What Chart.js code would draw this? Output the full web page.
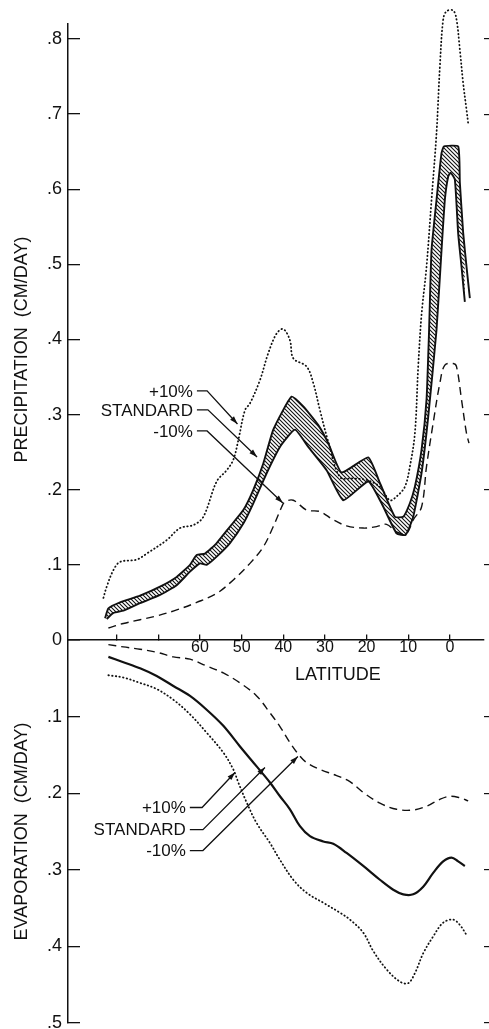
<!DOCTYPE html>
<html lang="en">
<head>
<meta charset="UTF-8">
<title>Precipitation and evaporation vs latitude</title>
<script src="https://cdn.jsdelivr.net/npm/chart.js@4"></script>
<style>
  html, body { margin: 0; padding: 0; background: #fff; }
  .wrap { width: 489px; height: 1029px; position: relative; }
</style>
</head>
<body>
<div class="wrap"><canvas id="chart"></canvas></div>
<script>
// ---- data (latitude, cm/day) ----
const latTicks = [80, 70, 60, 50, 40, 30, 20, 10, 0];
const precipTicks = [0, 0.1, 0.2, 0.3, 0.4, 0.5, 0.6, 0.7, 0.8];
const evapTicks = [0, 0.1, 0.2, 0.3, 0.4, 0.5];

// precipitation, standard run: upper and lower edge of the hatched band
const stdHiLat = [82.8, 82.0, 79.2, 74.4, 69.6, 65.6, 62.4, 60.8, 58.8, 56.0, 52.8, 49.6, 47.2, 44.8, 42.4, 38.0, 35.2, 31.6, 29.2, 26.0, 19.6, 16.8, 13.2, 11.2, 9.6, 8.4, 6.8, 5.6, 5.0, 4.4, 3.2, 2.0, 1.4, -2.0, -2.4, -3.2, -4.0, -4.8];
const stdHiVal = [0.029, 0.042, 0.050, 0.059, 0.071, 0.084, 0.100, 0.113, 0.115, 0.129, 0.151, 0.173, 0.200, 0.235, 0.280, 0.324, 0.311, 0.286, 0.262, 0.223, 0.243, 0.209, 0.164, 0.164, 0.182, 0.204, 0.253, 0.320, 0.410, 0.519, 0.586, 0.648, 0.657, 0.657, 0.609, 0.542, 0.497, 0.455];
const stdLoLat = [82.4, 80.8, 78.4, 74.4, 69.6, 65.6, 62.4, 60.0, 58.4, 56.0, 52.8, 49.6, 47.2, 44.0, 40.8, 37.2, 34.0, 29.6, 25.6, 19.6, 16.4, 12.8, 10.6, 8.8, 6.8, 5.2, 3.2, 2.0, 1.2, 0.4, -0.2, -1.2, -2.0, -2.8, -3.6];
const stdLoVal = [0.028, 0.036, 0.039, 0.049, 0.060, 0.073, 0.091, 0.102, 0.100, 0.111, 0.129, 0.155, 0.182, 0.222, 0.257, 0.280, 0.257, 0.226, 0.186, 0.211, 0.182, 0.142, 0.140, 0.164, 0.222, 0.297, 0.413, 0.519, 0.586, 0.617, 0.622, 0.613, 0.541, 0.497, 0.450];

// precipitation, +10% (dotted) and -10% (dashed)
const plusPrecipLat = [83.2, 82.4, 80.8, 79.2, 75.2, 72.8, 68.0, 64.8, 61.6, 59.2, 56.0, 53.6, 52.0, 50.8, 49.2, 48.0, 45.6, 43.6, 41.6, 40.0, 38.4, 37.6, 34.4, 32.8, 31.2, 29.2, 26.4, 23.2, 20.0, 16.8, 14.4, 12.8, 10.8, 9.6, 8.4, 7.6, 6.8, 5.6, 4.4, 3.2, 2.4, 1.6, 0.8, -0.8, -1.6, -2.4, -3.2, -4.0, -4.4];
const plusPrecipVal = [0.056, 0.071, 0.093, 0.104, 0.107, 0.115, 0.133, 0.149, 0.153, 0.164, 0.211, 0.226, 0.240, 0.266, 0.306, 0.315, 0.346, 0.382, 0.408, 0.414, 0.399, 0.375, 0.364, 0.342, 0.306, 0.264, 0.217, 0.215, 0.213, 0.204, 0.186, 0.191, 0.204, 0.231, 0.275, 0.364, 0.433, 0.497, 0.586, 0.675, 0.763, 0.826, 0.837, 0.838, 0.826, 0.786, 0.741, 0.706, 0.688];
const minusPrecipLat = [82.0, 78.4, 74.4, 70.4, 65.6, 60.8, 56.0, 52.0, 48.0, 44.8, 42.4, 40.4, 39.6, 37.6, 34.4, 31.2, 28.0, 24.8, 20.8, 17.6, 15.2, 12.8, 10.4, 8.8, 6.8, 5.6, 4.0, 2.4, 1.2, -0.8, -1.6, -2.8, -4.0, -4.6];
const minusPrecipVal = [0.016, 0.022, 0.027, 0.032, 0.040, 0.050, 0.062, 0.080, 0.102, 0.124, 0.151, 0.177, 0.184, 0.186, 0.173, 0.171, 0.160, 0.152, 0.149, 0.151, 0.154, 0.144, 0.142, 0.160, 0.177, 0.231, 0.289, 0.342, 0.366, 0.368, 0.364, 0.320, 0.275, 0.262];

// evaporation
const stdEvapLat = [82.0, 78.4, 74.4, 70.4, 66.4, 62.4, 58.4, 54.4, 50.4, 46.4, 43.2, 40.8, 38.4, 36.0, 33.6, 30.4, 28.0, 24.8, 20.8, 16.8, 13.6, 11.2, 8.8, 6.4, 4.0, 1.6, -0.4, -2.0, -3.6];
const stdEvapVal = [0.022, 0.029, 0.037, 0.047, 0.060, 0.073, 0.091, 0.112, 0.139, 0.165, 0.186, 0.204, 0.221, 0.243, 0.256, 0.263, 0.266, 0.278, 0.295, 0.313, 0.326, 0.332, 0.332, 0.322, 0.304, 0.289, 0.284, 0.289, 0.295];
const minusEvapLat = [82.0, 78.4, 74.4, 70.4, 66.4, 62.4, 58.4, 54.4, 50.4, 46.4, 43.2, 40.8, 38.4, 36.4, 34.4, 31.2, 27.2, 24.0, 20.8, 16.8, 12.8, 8.8, 5.6, 2.4, 0.0, -2.4, -4.4];
const minusEvapVal = [0.006, 0.009, 0.012, 0.016, 0.022, 0.025, 0.034, 0.043, 0.056, 0.073, 0.095, 0.113, 0.134, 0.149, 0.160, 0.169, 0.177, 0.185, 0.199, 0.213, 0.221, 0.222, 0.217, 0.208, 0.204, 0.206, 0.210];
const plusEvapLat = [82.0, 78.4, 74.4, 70.4, 66.4, 62.4, 58.4, 54.4, 52.0, 50.8, 48.8, 46.4, 43.2, 40.8, 37.6, 34.4, 30.4, 26.4, 24.0, 20.8, 18.4, 15.2, 12.0, 10.0, 8.4, 6.4, 4.0, 1.6, -0.8, -2.4, -4.0];
const plusEvapVal = [0.046, 0.049, 0.056, 0.064, 0.078, 0.097, 0.121, 0.147, 0.169, 0.186, 0.212, 0.239, 0.265, 0.287, 0.313, 0.330, 0.343, 0.356, 0.365, 0.382, 0.406, 0.430, 0.446, 0.448, 0.435, 0.409, 0.387, 0.369, 0.365, 0.372, 0.385];

const labelNames = ['+10%', 'STANDARD', '-10%'];

// ---- helpers ----
const ink = '#111';
const FONT = '"Liberation Sans", Arial, Helvetica, sans-serif';
Chart.defaults.font.family = FONT;
Chart.defaults.color = ink;

function pts(lat, val) {
  return lat.map((x, i) => ({ x: x, y: val[i] }));
}

function hatch() {
  const c = document.createElement('canvas');
  c.width = 4; c.height = 4;
  const g = c.getContext('2d');
  g.strokeStyle = '#111';
  g.lineWidth = 1.1;
  g.beginPath();
  g.moveTo(-1, -1); g.lineTo(5, 5);
  g.moveTo(-1, 3); g.lineTo(1, 5);
  g.moveTo(3, -1); g.lineTo(5, 1);
  g.stroke();
  return g.createPattern(c, 'repeat');
}

const dotted = { borderDash: [0.5, 3.2], borderWidth: 1.8, borderCapStyle: 'round', tension: 0.35 };
const dashed = { borderDash: [8, 5], borderWidth: 1.4, tension: 0.35 };

function setTicks(list) {
  return s => { s.ticks = list.map(v => ({ value: v })); };
}
function fmt(v) {
  if (v === 0) return '0';
  return '.' + Math.round(v * 10);
}
// fixed axis sizes, no extra room reserved for end labels
function fixWidth(w) {
  return s => { s.width = w; s.paddingTop = 0; s.paddingBottom = 0; };
}

// leader lines in data units: text end, knee and arrow tip
const leaders = [
  { axis: 'yTop', i: 0, tx: 61.7, ty: 0.3316, kx: 58.3, px: 51.0, py: 0.2876 },
  { axis: 'yTop', i: 1, tx: 61.7, ty: 0.3063, kx: 58.1, px: 46.3, py: 0.2437 },
  { axis: 'yTop', i: 2, tx: 61.7, ty: 0.2783, kx: 58.3, px: 40.1, py: 0.1824 },
  { axis: 'yBot', i: 0, tx: 63.4, ty: 0.2187, kx: 59.5, px: 51.6, py: 0.1729 },
  { axis: 'yBot', i: 1, tx: 63.4, ty: 0.2475, kx: 59.3, px: 44.4, py: 0.1664 },
  { axis: 'yBot', i: 2, tx: 63.4, ty: 0.2749, kx: 59.3, px: 36.5, py: 0.152 }
];

const notes = {
  id: 'notes',
  afterDatasetsDraw(chart) {
    const { ctx, scales } = chart;
    const X = scales.x;
    ctx.save();
    ctx.fillStyle = ink;
    ctx.strokeStyle = ink;
    ctx.lineWidth = 1.3;

    ctx.font = '18px ' + FONT;
    ctx.textAlign = 'center';
    ctx.textBaseline = 'middle';
    ctx.fillText('LATITUDE', X.getPixelForValue(26.9), scales.yBot.getPixelForValue(0.046));

    ctx.font = '17px ' + FONT;
    ctx.textAlign = 'right';
    for (const l of leaders) {
      const Y = scales[l.axis];
      const x0 = X.getPixelForValue(l.tx), y0 = Y.getPixelForValue(l.ty);
      const xk = X.getPixelForValue(l.kx);
      const xp = X.getPixelForValue(l.px), yp = Y.getPixelForValue(l.py);
      ctx.fillText(labelNames[l.i], x0, y0 + 1);
      ctx.beginPath();
      ctx.moveTo(x0 + 4, y0);
      ctx.lineTo(xk, y0);
      ctx.lineTo(xp, yp);
      ctx.stroke();
      // arrow head
      const a = Math.atan2(yp - y0, xp - xk);
      const len = 8, w = 2.6;
      ctx.beginPath();
      ctx.moveTo(xp, yp);
      ctx.lineTo(xp - len * Math.cos(a) + w * Math.sin(a), yp - len * Math.sin(a) - w * Math.cos(a));
      ctx.lineTo(xp - len * Math.cos(a) - w * Math.sin(a), yp - len * Math.sin(a) + w * Math.cos(a));
      ctx.closePath();
      ctx.fill();
    }
    ctx.restore();
  }
};

new Chart(document.getElementById('chart'), {
  type: 'line',
  data: {
    datasets: [
      { label: 'Standard (upper)', data: pts(stdHiLat, stdHiVal), yAxisID: 'yTop', borderColor: ink, borderWidth: 1.9, tension: 0.15, fill: false },
      { label: 'Standard (lower)', data: pts(stdLoLat, stdLoVal), yAxisID: 'yTop', borderColor: ink, borderWidth: 1.9, tension: 0.15, fill: '-1', backgroundColor: hatch() },
      Object.assign({ label: '+10%', data: pts(plusPrecipLat, plusPrecipVal), yAxisID: 'yTop', borderColor: ink, fill: false, clip: false }, dotted),
      Object.assign({ label: '-10%', data: pts(minusPrecipLat, minusPrecipVal), yAxisID: 'yTop', borderColor: ink, fill: false }, dashed),
      { label: 'Standard evap', data: pts(stdEvapLat, stdEvapVal), yAxisID: 'yBot', borderColor: ink, borderWidth: 2.2, tension: 0.35, fill: false },
      Object.assign({ label: '+10% evap', data: pts(plusEvapLat, plusEvapVal), yAxisID: 'yBot', borderColor: ink, fill: false }, dotted),
      Object.assign({ label: '-10% evap', data: pts(minusEvapLat, minusEvapVal), yAxisID: 'yBot', borderColor: ink, fill: false }, dashed)
    ]
  },
  options: {
    responsive: true,
    maintainAspectRatio: false,
    animation: false,
    layout: { padding: { top: 24, bottom: 6, left: 0, right: 0 } },
    elements: { point: { radius: 0 } },
    plugins: { legend: { display: false }, tooltip: { enabled: false } },
    scales: {
      x: {
        type: 'linear',
        reverse: true,
        min: -8.2,
        max: 91.7,
        position: { yTop: 0 },
        afterBuildTicks: setTicks(latTicks),
        afterFit: s => { s.height = 0; s.paddingTop = 0; s.paddingBottom = 0; s.paddingLeft = 0; s.paddingRight = 0; },
        border: { display: true, color: ink, width: 1.5 },
        grid: { drawOnChartArea: false, tickLength: -6, color: ink, lineWidth: 1.3 },
        ticks: { font: { size: 16 }, color: ink, padding: 4, maxRotation: 0, autoSkip: false,
                 callback: v => (v <= 60 ? String(v) : '') }
      },
      yBot: {
        type: 'linear',
        position: 'left',
        stack: 'L',
        stackWeight: 383,
        reverse: true,
        min: 0,
        max: 0.5,
        afterBuildTicks: setTicks(evapTicks),
        afterFit: fixWidth(68),
        border: { display: true, color: ink, width: 1.5 },
        grid: { drawOnChartArea: false, tickLength: -12, color: ink, lineWidth: 1.3 },
        ticks: { font: { size: 18 }, color: ink, padding: 18, callback: v => (v === 0 ? '' : fmt(v)) },
        title: { display: true, text: 'EVAPORATION  (CM/DAY)', font: { size: 18 }, color: ink, padding: { top: 11, bottom: 0 } }
      },
      yTop: {
        type: 'linear',
        position: 'left',
        stack: 'L',
        stackWeight: 616,
        min: 0,
        max: 0.82,
        afterBuildTicks: setTicks(precipTicks),
        afterFit: fixWidth(68),
        border: { display: true, color: ink, width: 1.5 },
        grid: { drawOnChartArea: false, tickLength: -12, color: ink, lineWidth: 1.3 },
        ticks: { font: { size: 18 }, color: ink, padding: 18, callback: v => fmt(v) },
        title: { display: true, text: 'PRECIPITATION  (CM/DAY)\u00a0\u00a0\u00a0\u00a0\u00a0\u00a0\u00a0', font: { size: 18 }, color: ink, padding: { top: 11, bottom: 0 } }
      },
      yTopR: {
        type: 'linear',
        position: 'right',
        stack: 'R',
        stackWeight: 616,
        min: 0,
        max: 0.82,
        afterBuildTicks: setTicks(precipTicks.slice(1)),
        afterFit: fixWidth(5),
        border: { display: false },
        grid: { drawOnChartArea: false, tickLength: 5, color: ink, lineWidth: 1.2 },
        ticks: { display: false }
      },
      yBotR: {
        type: 'linear',
        position: 'right',
        stack: 'R',
        stackWeight: 383,
        reverse: true,
        min: 0,
        max: 0.5,
        afterBuildTicks: setTicks(evapTicks.slice(1)),
        afterFit: fixWidth(5),
        border: { display: false },
        grid: { drawOnChartArea: false, tickLength: 5, color: ink, lineWidth: 1.2 },
        ticks: { display: false }
      }
    }
  },
  plugins: [notes]
});
</script>
</body>
</html>
